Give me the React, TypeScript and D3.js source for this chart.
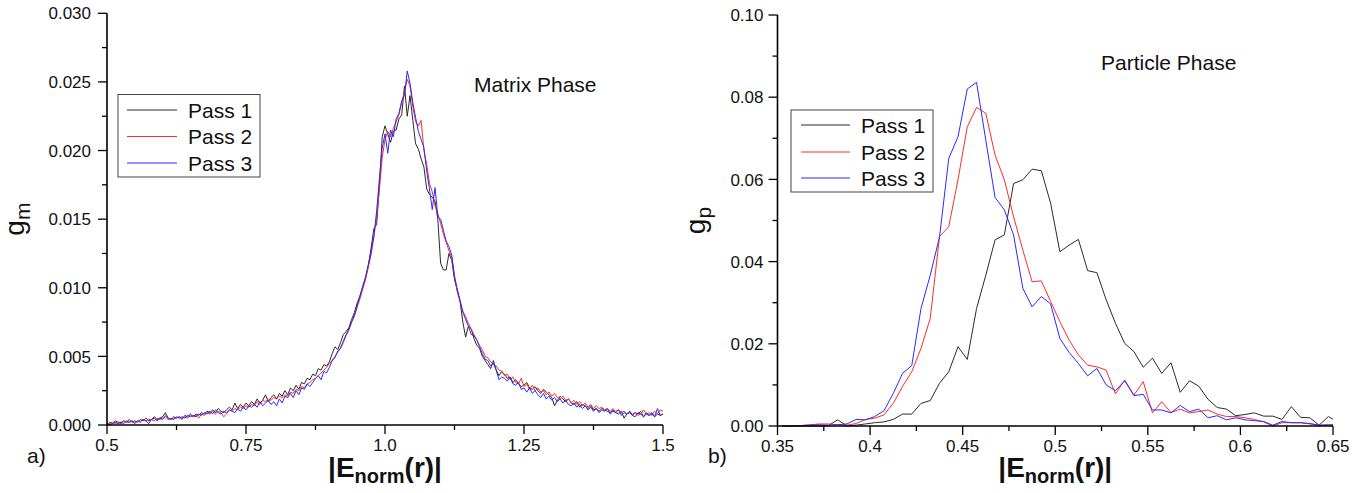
import React from "react";
import * as d3 from "d3";

// ---------- Data ----------
const seriesNames = ["Pass 1", "Pass 2", "Pass 3"];
const seriesColors = ["#2a2a2a", "#ff2a2a", "#2a2aff"];

// Matrix phase: |E_norm(r)| from 0.5 to 1.5 (step 0.005)
const matrixStart = 0.5;
const matrixStep = 0.005;
const matrixPass1 = [
  0.0000,0.0002,0.0001,0.0003,0.0002,0.0001,0.0003,0.0002,0.0004,0.0002,
  0.0003,0.0002,0.0004,0.0003,0.0005,0.0003,0.0004,0.0006,0.0004,0.0005,
  0.0006,0.0009,0.0005,0.0004,0.0006,0.0005,0.0006,0.0004,0.0007,0.0006,
  0.0008,0.0006,0.0008,0.0007,0.0009,0.0008,0.0010,0.0009,0.0011,0.0009,
  0.0012,0.0010,0.0009,0.0011,0.0013,0.0011,0.0016,0.0012,0.0015,0.0013,
  0.0016,0.0014,0.0017,0.0015,0.0019,0.0016,0.0018,0.0022,0.0017,0.0020,
  0.0022,0.0019,0.0023,0.0021,0.0025,0.0022,0.0027,0.0025,0.0029,0.0026,
  0.0031,0.0030,0.0034,0.0033,0.0037,0.0036,0.0041,0.0040,0.0044,0.0043,
  0.0046,0.0052,0.0057,0.0055,0.0060,0.0066,0.0068,0.0071,0.0077,0.0082,
  0.0089,0.0094,0.0101,0.0107,0.0116,0.0129,0.0143,0.0146,0.0175,0.0210,
  0.0218,0.0212,0.0206,0.0214,0.0215,0.0223,0.0226,0.0247,0.0225,0.0240,
  0.0222,0.0205,0.0201,0.0194,0.0188,0.0172,0.0168,0.0166,0.0163,0.0150,
  0.0118,0.0113,0.0113,0.0125,0.0120,0.0106,0.0098,0.0090,0.0075,0.0064,
  0.0072,0.0070,0.0063,0.0058,0.0056,0.0050,0.0047,0.0044,0.0041,0.0047,
  0.0040,0.0036,0.0039,0.0037,0.0034,0.0035,0.0031,0.0033,0.0030,0.0028,
  0.0029,0.0031,0.0027,0.0026,0.0028,0.0025,0.0023,0.0026,0.0024,0.0022,
  0.0020,0.0014,0.0018,0.0021,0.0019,0.0017,0.0019,0.0016,0.0015,0.0017,
  0.0013,0.0015,0.0014,0.0012,0.0014,0.0011,0.0012,0.0010,0.0012,0.0011,
  0.0010,0.0009,0.0011,0.0009,0.0008,0.0010,0.0005,0.0008,0.0009,0.0007,
  0.0009,0.0008,0.0010,0.0006,0.0008,0.0007,0.0009,0.0006,0.0008,0.0007,
  0.0008,
];
const matrixPass2 = [
  0.0001,0.0001,0.0002,0.0001,0.0002,0.0002,0.0003,0.0002,0.0002,0.0003,
  0.0002,0.0003,0.0003,0.0004,0.0003,0.0004,0.0004,0.0003,0.0005,0.0004,
  0.0005,0.0007,0.0005,0.0004,0.0005,0.0005,0.0006,0.0005,0.0006,0.0005,
  0.0007,0.0006,0.0007,0.0005,0.0008,0.0007,0.0009,0.0008,0.0010,0.0008,
  0.0010,0.0009,0.0006,0.0008,0.0011,0.0010,0.0012,0.0011,0.0013,0.0012,
  0.0014,0.0013,0.0015,0.0014,0.0017,0.0015,0.0018,0.0017,0.0019,0.0018,
  0.0020,0.0019,0.0021,0.0020,0.0022,0.0021,0.0024,0.0023,0.0026,0.0025,
  0.0028,0.0027,0.0030,0.0031,0.0033,0.0034,0.0036,0.0038,0.0040,0.0042,
  0.0045,0.0047,0.0050,0.0053,0.0056,0.0060,0.0065,0.0069,0.0075,0.0079,
  0.0086,0.0092,0.0099,0.0106,0.0115,0.0124,0.0137,0.0152,0.0172,0.0195,
  0.0208,0.0214,0.0210,0.0216,0.0221,0.0226,0.0235,0.0243,0.0252,0.0247,
  0.0232,0.0221,0.0218,0.0222,0.0200,0.0190,0.0176,0.0170,0.0160,0.0154,
  0.0147,0.0139,0.0133,0.0127,0.0122,0.0109,0.0097,0.0090,0.0083,0.0079,
  0.0074,0.0070,0.0066,0.0062,0.0058,0.0055,0.0050,0.0049,0.0046,0.0044,
  0.0043,0.0040,0.0039,0.0036,0.0037,0.0033,0.0035,0.0031,0.0030,0.0034,
  0.0028,0.0030,0.0026,0.0029,0.0025,0.0027,0.0024,0.0025,0.0022,0.0024,
  0.0021,0.0023,0.0020,0.0019,0.0021,0.0018,0.0019,0.0016,0.0018,0.0015,
  0.0017,0.0014,0.0016,0.0013,0.0015,0.0012,0.0014,0.0012,0.0013,0.0011,
  0.0012,0.0010,0.0012,0.0010,0.0011,0.0009,0.0010,0.0008,0.0010,0.0008,
  0.0009,0.0007,0.0008,0.0011,0.0008,0.0009,0.0007,0.0010,0.0008,0.0011,
  0.0010,
];
const matrixPass3 = [
  0.0001,0.0000,0.0001,0.0002,0.0001,0.0002,0.0001,0.0003,0.0002,0.0003,
  0.0001,0.0003,0.0002,0.0004,0.0003,0.0001,0.0004,0.0005,0.0003,0.0005,
  0.0004,0.0006,0.0004,0.0005,0.0004,0.0006,0.0005,0.0006,0.0005,0.0007,
  0.0006,0.0007,0.0006,0.0008,0.0007,0.0009,0.0008,0.0010,0.0008,0.0011,
  0.0009,0.0008,0.0010,0.0009,0.0011,0.0010,0.0009,0.0012,0.0010,0.0013,
  0.0011,0.0014,0.0013,0.0015,0.0013,0.0017,0.0014,0.0016,0.0018,0.0015,
  0.0017,0.0014,0.0019,0.0016,0.0021,0.0020,0.0023,0.0020,0.0025,0.0022,
  0.0027,0.0026,0.0030,0.0028,0.0031,0.0034,0.0036,0.0033,0.0039,0.0038,
  0.0042,0.0047,0.0049,0.0054,0.0056,0.0061,0.0066,0.0070,0.0075,0.0080,
  0.0087,0.0094,0.0101,0.0108,0.0117,0.0126,0.0138,0.0156,0.0180,0.0202,
  0.0212,0.0198,0.0215,0.0210,0.0223,0.0227,0.0236,0.0240,0.0258,0.0249,
  0.0235,0.0224,0.0214,0.0208,0.0202,0.0185,0.0172,0.0157,0.0173,0.0152,
  0.0150,0.0142,0.0134,0.0130,0.0124,0.0108,0.0099,0.0091,0.0082,0.0077,
  0.0072,0.0066,0.0065,0.0062,0.0057,0.0052,0.0048,0.0047,0.0043,0.0045,
  0.0040,0.0033,0.0035,0.0034,0.0032,0.0035,0.0030,0.0029,0.0031,0.0026,
  0.0027,0.0024,0.0027,0.0023,0.0025,0.0022,0.0020,0.0023,0.0019,0.0021,
  0.0018,0.0020,0.0017,0.0019,0.0016,0.0018,0.0015,0.0014,0.0016,0.0013,
  0.0015,0.0012,0.0014,0.0011,0.0013,0.0010,0.0012,0.0009,0.0011,0.0010,
  0.0012,0.0008,0.0010,0.0009,0.0011,0.0007,0.0009,0.0008,0.0010,0.0007,
  0.0006,0.0009,0.0008,0.0006,0.0009,0.0007,0.0008,0.0006,0.0012,0.0007,
  0.0008,
];

// Particle phase: bin centres from 0.3525 (step 0.005)
const particleStart = 0.3525;
const particleStep = 0.005;
const particlePass1 = [
  0.0000,0.0000,0.0000,0.0000,0.0000,0.0001,0.0015,0.0000,0.0002,0.0005,
  0.0008,0.0010,0.0016,0.0029,0.0029,0.0055,0.0062,0.0104,0.0132,0.0193,
  0.0162,0.0286,0.0367,0.0453,0.0465,0.0590,0.0599,0.0625,0.0621,0.0542,
  0.0424,0.0440,0.0454,0.0378,0.0373,0.0307,0.0250,0.0201,0.0181,0.0143,
  0.0165,0.0128,0.0154,0.0082,0.0110,0.0097,0.0065,0.0045,0.0041,0.0025,
  0.0028,0.0032,0.0024,0.0024,0.0016,0.0047,0.0021,0.0020,0.0002,0.0023,
  0.0010,
];
const particlePass2 = [
  0.0000,0.0000,0.0001,0.0003,0.0005,0.0005,0.0003,0.0002,0.0006,0.0016,
  0.0019,0.0027,0.0055,0.0096,0.0132,0.0189,0.0262,0.0461,0.0485,0.0600,
  0.0728,0.0775,0.0761,0.0659,0.0599,0.0509,0.0428,0.0351,0.0353,0.0303,
  0.0254,0.0209,0.0173,0.0148,0.0144,0.0136,0.0078,0.0112,0.0075,0.0108,
  0.0032,0.0059,0.0033,0.0041,0.0032,0.0035,0.0039,0.0029,0.0023,0.0023,
  0.0020,0.0016,0.0010,0.0000,0.0008,0.0008,0.0008,0.0005,0.0002,0.0002,
  0.0002,
];
const particlePass3 = [
  0.0000,0.0000,0.0001,0.0002,0.0003,0.0002,0.0003,0.0005,0.0016,0.0015,
  0.0023,0.0037,0.0079,0.0128,0.0147,0.0286,0.0367,0.0460,0.0651,0.0704,
  0.0820,0.0836,0.0695,0.0556,0.0526,0.0465,0.0335,0.0290,0.0315,0.0297,
  0.0213,0.0179,0.0152,0.0122,0.0140,0.0100,0.0086,0.0110,0.0074,0.0077,
  0.0039,0.0039,0.0032,0.0050,0.0035,0.0041,0.0020,0.0025,0.0015,0.0020,
  0.0015,0.0013,0.0011,0.0002,0.0011,0.0008,0.0008,0.0006,0.0002,0.0003,
  0.0003,
];

// Ticks
const matrixXTicks = [0.5, 0.75, 1.0, 1.25, 1.5];
const matrixXLabels = ["0.5", "0.75", "1.0", "1.25", "1.5"];
const matrixYTicks = [0, 0.005, 0.01, 0.015, 0.02, 0.025, 0.03];
const matrixYLabels = ["0.000", "0.005", "0.010", "0.015", "0.020", "0.025", "0.030"];
const particleXTicks = [0.35, 0.4, 0.45, 0.5, 0.55, 0.6, 0.65];
const particleXLabels = ["0.35", "0.4", "0.45", "0.5", "0.55", "0.6", "0.65"];
const particleYTicks = [0, 0.02, 0.04, 0.06, 0.08, 0.1];
const particleYLabels = ["0.00", "0.02", "0.04", "0.06", "0.08", "0.10"];

const FONT = "'Liberation Sans', Arial, Helvetica, sans-serif";

type PanelProps = {
  xDomain: [number, number];
  yDomain: [number, number];
  xRange: [number, number];
  yRange: [number, number];
  xTicks: number[];
  xLabels: string[];
  yTicks: number[];
  yLabels: string[];
  start: number;
  step: number;
  series: number[][];
  id: string;
  yLabelMain: string;
  yLabelSub: string;
  yLabelX: number;
  yTickLabelGap: number;
  panelTag: string;
  panelTagX: number;
  title: string;
  titleX: number;
  titleY: number;
  legendBox: { x: number; y: number; w: number; h: number };
  legendRowY: number[];
  legendLineX: [number, number];
  legendTextX: number;
};

function Panel(p: PanelProps) {
  const x = d3.scaleLinear().domain(p.xDomain).range(p.xRange);
  const y = d3.scaleLinear().domain(p.yDomain).range(p.yRange);
  const [x0, x1] = p.xRange;
  const [yb, yt] = p.yRange;
  const xMinor = p.xTicks.slice(0, -1).map((t, i) => (t + p.xTicks[i + 1]) / 2);
  const yMinor = p.yTicks.slice(0, -1).map((t, i) => (t + p.yTicks[i + 1]) / 2);
  const line = d3
    .line<[number, number]>()
    .x((d) => x(d[0]))
    .y((d) => y(d[1]));
  const majorLen = 9;
  const minorLen = 5;
  const xMid = (x0 + x1) / 2;
  return (
    <g>
      <defs>
        <clipPath id={`clip-${p.id}`}>
          <rect x={x0} y={yt - 2} width={x1 - x0} height={yb - yt + 4} />
        </clipPath>
      </defs>
      <g clipPath={`url(#clip-${p.id})`}>
        {p.series.map((vals, si) => {
          const pts: [number, number][] = vals.map((v, i) => [p.start + i * p.step, v]);
          return (
            <path
              key={si}
              d={line(pts) || ""}
              fill="none"
              stroke={seriesColors[si]}
              strokeWidth={1}
              strokeLinejoin="round"
            />
          );
        })}
      </g>
      {/* axes */}
      <line x1={x0} x2={x0} y1={yb} y2={yt} stroke="#000" strokeWidth={1.6} />
      <line x1={x0} x2={x1} y1={yb} y2={yb} stroke="#000" strokeWidth={1.6} />
      {p.yTicks.map((t, i) => (
        <g key={`yt${i}`}>
          <line x1={x0 - majorLen} x2={x0} y1={y(t)} y2={y(t)} stroke="#000" strokeWidth={1.3} />
          <text
            x={x0 - p.yTickLabelGap}
            y={y(t)}
            dy="0.36em"
            textAnchor="end"
            fontFamily={FONT}
            fontSize={17}
            fill="#111"
          >
            {p.yLabels[i]}
          </text>
        </g>
      ))}
      {yMinor.map((t, i) => (
        <line key={`ym${i}`} x1={x0 - minorLen} x2={x0} y1={y(t)} y2={y(t)} stroke="#000" strokeWidth={1.3} />
      ))}
      {p.xTicks.map((t, i) => (
        <g key={`xt${i}`}>
          <line x1={x(t)} x2={x(t)} y1={yb} y2={yb + majorLen} stroke="#000" strokeWidth={1.3} />
          <text x={x(t)} y={yb + 26} textAnchor="middle" fontFamily={FONT} fontSize={17} fill="#111">
            {p.xLabels[i]}
          </text>
        </g>
      ))}
      {xMinor.map((t, i) => (
        <line key={`xm${i}`} x1={x(t)} x2={x(t)} y1={yb} y2={yb + minorLen} stroke="#000" strokeWidth={1.3} />
      ))}
      {/* axis titles */}
      <text
        transform={`translate(${p.yLabelX},${(yb + yt) / 2}) rotate(-90)`}
        textAnchor="middle"
        fontFamily={FONT}
        fontSize={28}
        fill="#111"
      >
        {p.yLabelMain}
        <tspan fontSize={21} dy={6}>
          {p.yLabelSub}
        </tspan>
      </text>
      <text x={xMid} y={477} textAnchor="middle" fontFamily={FONT} fontSize={28} fontWeight="bold" fill="#111">
        |E
        <tspan fontSize={20} dy={6}>
          norm
        </tspan>
        <tspan dy={-6}>(r)|</tspan>
      </text>
      <text x={p.panelTagX} y={463} fontFamily={FONT} fontSize={21} fill="#111">
        {p.panelTag}
      </text>
      <text x={p.titleX} y={p.titleY} fontFamily={FONT} fontSize={21} fill="#111">
        {p.title}
      </text>
      {/* legend */}
      <rect
        x={p.legendBox.x}
        y={p.legendBox.y}
        width={p.legendBox.w}
        height={p.legendBox.h}
        fill="#fff"
        stroke="#444"
        strokeWidth={1}
      />
      {seriesNames.map((name, i) => (
        <g key={name}>
          <line
            x1={p.legendLineX[0]}
            x2={p.legendLineX[1]}
            y1={p.legendRowY[i]}
            y2={p.legendRowY[i]}
            stroke={seriesColors[i]}
            strokeWidth={1}
          />
          <text x={p.legendTextX} y={p.legendRowY[i] + 7.5} fontFamily={FONT} fontSize={21} fill="#111">
            {name}
          </text>
        </g>
      ))}
    </g>
  );
}

export default function App() {
  return (
    <svg
      width={1370}
      height={493}
      viewBox="0 0 1370 493"
      style={{ position: "absolute", left: 0, top: 0, background: "#fff" }}
    >
      <rect x={0} y={0} width={1370} height={493} fill="#fff" />
      <Panel
        id="m"
        xDomain={[0.5, 1.5]}
        yDomain={[0, 0.03]}
        xRange={[107, 663]}
        yRange={[425, 13.3]}
        xTicks={matrixXTicks}
        xLabels={matrixXLabels}
        yTicks={matrixYTicks}
        yLabels={matrixYLabels}
        start={matrixStart}
        step={matrixStep}
        series={[matrixPass1, matrixPass2, matrixPass3]}
        yLabelMain="g"
        yLabelSub="m"
        yLabelX={24}
        yTickLabelGap={16}
        panelTag="a)"
        panelTagX={27}
        title="Matrix Phase"
        titleX={474}
        titleY={92}
        legendBox={{ x: 118, y: 94.5, w: 142, h: 82.5 }}
        legendRowY={[110, 136.5, 163]}
        legendLineX={[127, 177]}
        legendTextX={188}
      />
      <Panel
        id="p"
        xDomain={[0.35, 0.65]}
        yDomain={[0, 0.1]}
        xRange={[777.5, 1333]}
        yRange={[426, 15]}
        xTicks={particleXTicks}
        xLabels={particleXLabels}
        yTicks={particleYTicks}
        yLabels={particleYLabels}
        start={particleStart}
        step={particleStep}
        series={[particlePass1, particlePass2, particlePass3]}
        yLabelMain="g"
        yLabelSub="p"
        yLabelX={705}
        yTickLabelGap={14}
        panelTag="b)"
        panelTagX={708}
        title="Particle Phase"
        titleX={1101}
        titleY={70}
        legendBox={{ x: 791, y: 110, w: 142, h: 82 }}
        legendRowY={[125, 152, 178]}
        legendLineX={[801, 850]}
        legendTextX={861}
      />
    </svg>
  );
}
